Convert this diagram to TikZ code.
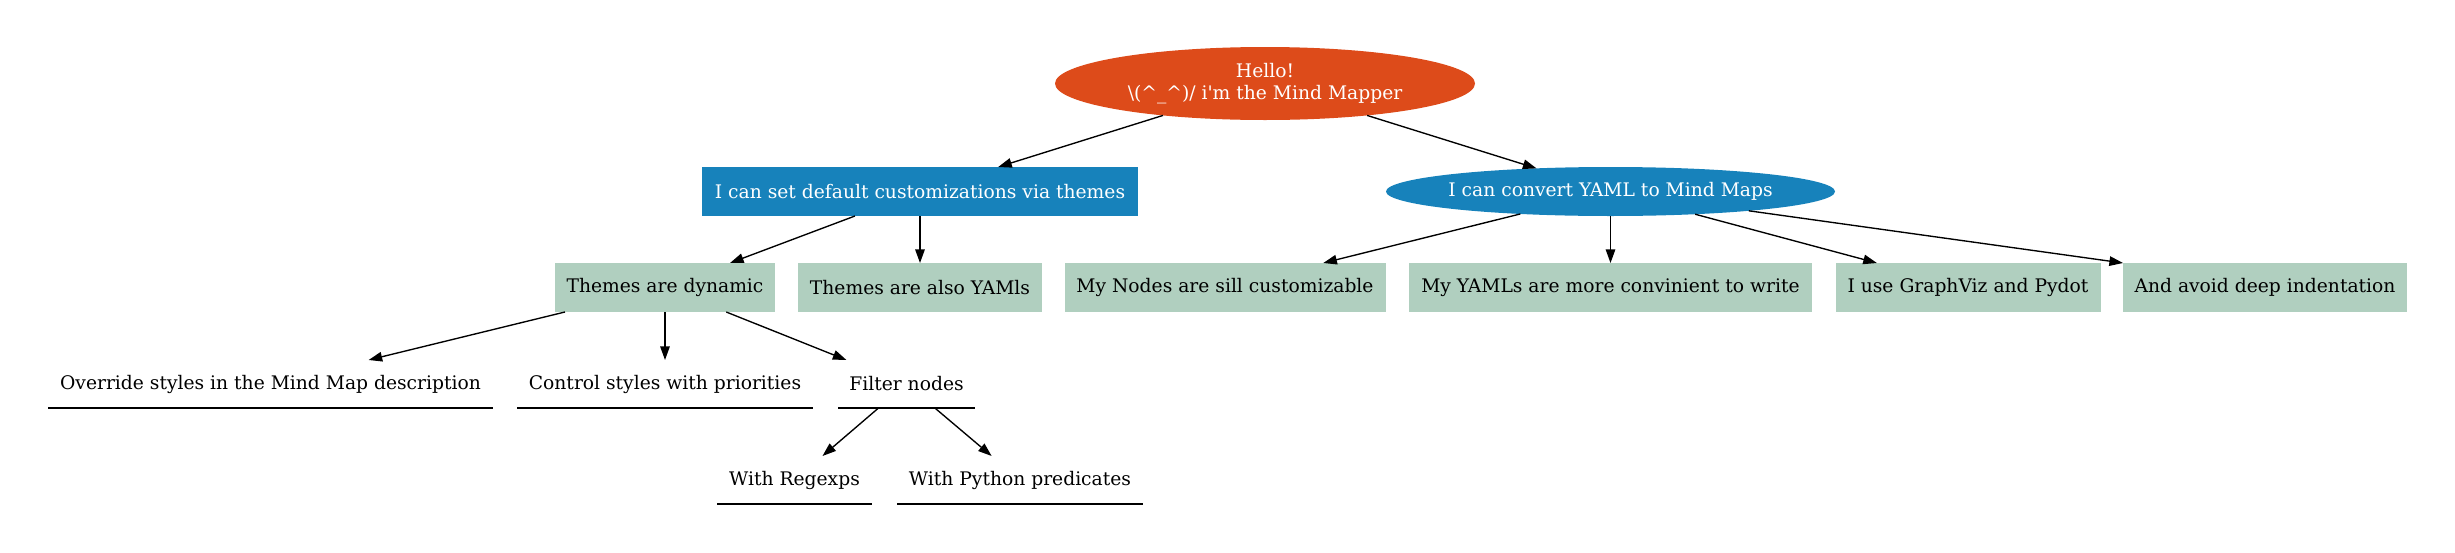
\documentclass[tikz,border=0pt]{standalone}
\usepackage{fontspec}
\newfontfamily\dv{DejaVu Serif}
\usetikzlibrary{arrows.meta,shapes.geometric}
\definecolor{rootc}{RGB}{221,75,26}
\definecolor{bluec}{RGB}{23,130,187}
\definecolor{greenc}{RGB}{176,207,191}
\begin{document}
\begin{tikzpicture}[x=1pt,y=-1pt,
  every node/.style={font=\dv\fontsize{18.7}{21.5}\selectfont, inner sep=0pt, outer sep=0pt},
  rootn/.style={ellipse, fill=rootc, text=white, minimum width=420pt, minimum height=73pt, align=center},
  bluebox/.style={rectangle, fill=bluec, text=white, minimum width=#1, minimum height=49pt},
  blueell/.style={ellipse, fill=bluec, text=white, minimum width=#1, minimum height=49pt},
  greenbox/.style={rectangle, fill=greenc, text=black, minimum width=#1, minimum height=49pt},
  uline/.style={rectangle, text=black, minimum width=#1, minimum height=48pt},
  ulinestroke/.style={draw=black, line width=1.36pt},
  arr/.style={draw=black, line width=1.36pt, -{Triangle[length=13.6pt,width=9.5pt]}}
]
\useasboundingbox (0,0) rectangle (2455,552);
% level 1
\node[rootn] (root) at (1265,83.5) {\makebox[280pt]{Hello!}\\\makebox[280pt]{\textbackslash(\textasciicircum\_\textasciicircum)/ i'm the Mind Mapper}};
% level 2
\node[bluebox=436pt] (themes) at (920,191.5) {I can set default customizations via themes};
\node[blueell=449pt] (yaml) at (1610.5,191.5) {\makebox[300pt]{I can convert YAML to Mind Maps}};
% level 3
\node[greenbox=220pt] (dyn) at (665,287.5) {Themes are dynamic};
\node[greenbox=244pt] (also) at (920,287.5) {Themes are also YAMls};
\node[greenbox=321pt] (mynodes) at (1225,287.5) {My Nodes are sill customizable};
\node[greenbox=403pt] (myyamls) at (1610.5,287.5) {My YAMLs are more convinient to write};
\node[greenbox=265pt] (gv) at (1968,287.5) {I use GraphViz and Pydot};
\node[greenbox=284pt] (avoid) at (2265,287.5) {And avoid deep indentation};
% level 4
\node[uline=445pt] (ov) at (270.5,384) {Override styles in the Mind Map description};
\node[uline=296pt] (ct) at (665,384) {Control styles with priorities};
\node[uline=137pt] (fi) at (906.5,384) {Filter nodes};
% level 5
\node[uline=155pt] (re) at (794.5,480) {With Regexps};
\node[uline=246pt] (py) at (1020,480) {With Python predicates};
% underlines
\foreach \n in {ov,ct,fi,re,py}
  \draw[ulinestroke] (\n.south west) -- (\n.south east);
% edges
\draw[arr] (root) -- (themes);
\draw[arr] (root) -- (yaml);
\draw[arr] (themes) -- (dyn);
\draw[arr] (themes) -- (also);
\draw[arr] (yaml) -- (mynodes);
\draw[arr] (yaml) -- (myyamls);
\draw[arr] (yaml) -- (gv);
\draw[arr] (yaml) -- (avoid.north west);
\draw[arr] (dyn) -- (ov);
\draw[arr] (dyn) -- (ct);
\draw[arr] (dyn) -- (fi);
\draw[arr] (fi) -- (re);
\draw[arr] (fi) -- (py);
\end{tikzpicture}
\end{document}
